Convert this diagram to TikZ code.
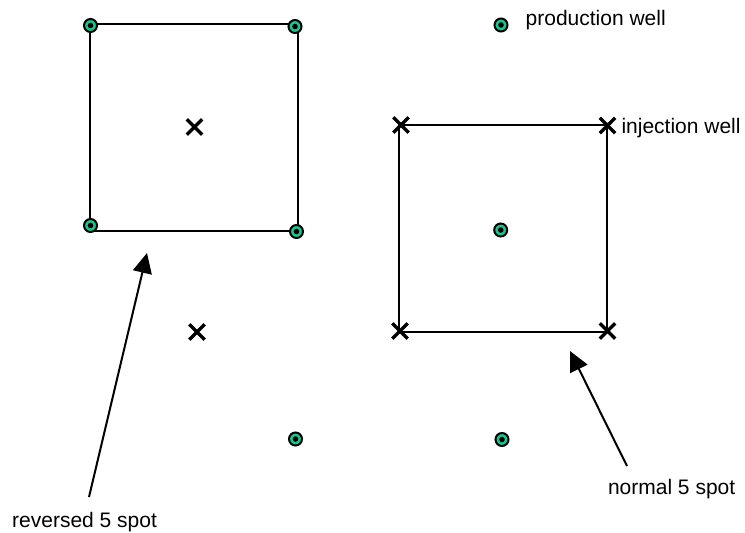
\documentclass[tikz,border=0pt]{standalone}
\usepackage{fontspec}
\setmainfont{Liberation Sans}
\usetikzlibrary{arrows.meta,shapes.misc}

\definecolor{wellteal}{RGB}{20,200,145}

\tikzset{
  producer/.style={circle, draw=black, fill=wellteal, line width=2pt,
    minimum size=13pt, inner sep=0pt,
    path picture={\fill[black] (path picture bounding box.center) circle (2.8pt);}},
  injector/.style={cross out, draw=black, line width=3.4pt,
    minimum size=12pt, inner sep=0pt},
  pattern/.style={draw=black, line width=2pt},
  pointer/.style={draw=black, line width=2pt,
    -{Triangle[length=20pt,width=19pt]}},
  caption/.style={inner sep=0pt, font=\fontsize{21pt}{25pt}\selectfont}
}

\begin{document}
\begin{tikzpicture}[x=1pt,y=-1pt]
  \useasboundingbox (0,0) rectangle (745,533);

  % reversed five-spot pattern
  \draw[pattern] (89.5,24) -- (297.5,24) -- (297.5,231) -- (89.5,231) -- cycle;
  % normal five-spot pattern
  \draw[pattern] (398.5,124.5) -- (606.8,124.5) -- (606.8,331.5) -- (398.5,331.5) -- cycle;

  % production wells
  \node[producer] (p1) at (90.5,25.5) {};
  \node[producer] (p2) at (295,26.5) {};
  \node[producer] (p3) at (90.5,225.5) {};
  \node[producer] (p4) at (296.5,231.5) {};
  \node[producer] (p5) at (500.7,230) {};
  \node[producer] (p6) at (295.5,439) {};
  \node[producer] (p7) at (502,439.5) {};
  \node[producer] (pkey) at (501,25) {};

  % injection wells
  \node[injector] (i1) at (194.5,127) {};
  \node[injector] (i2) at (197,332) {};
  \node[injector] (i3) at (401,125) {};
  \node[injector] (i4) at (607.5,125.5) {};
  \node[injector] (i5) at (400,331) {};
  \node[injector] (i6) at (607.5,331) {};

  % legend and captions
  \node[caption, anchor=base west] (tprod) at (525.5,25) {production well};
  \node[caption, anchor=base west] (tinj) at (621.3,133) {injection well};
  \node[caption, anchor=base west] (tnorm) at (607.8,494) {normal 5 spot};
  \node[caption, anchor=base west] (trev) at (12,527) {reversed 5 spot};

  % pointers to the two patterns
  \coordinate (revtail) at (89,497);
  \coordinate (revtip) at (147,253);
  \coordinate (normtail) at (627,466);
  \coordinate (normtip) at (570,351);
  \draw[pointer] (revtail) -- (revtip);
  \draw[pointer] (normtail) -- (normtip);
\end{tikzpicture}
\end{document}
